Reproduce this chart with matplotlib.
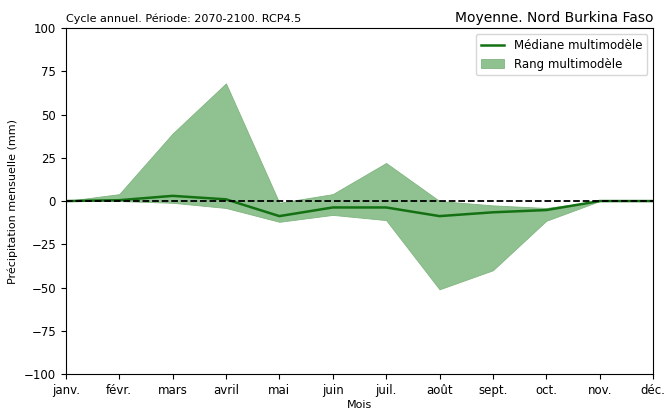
import numpy as np
import matplotlib
matplotlib.use("Agg")
import matplotlib.pyplot as plt

## Data ##
months = ["janv.", "févr.", "mars", "avril", "mai", "juin",
          "juil.", "août", "sept.", "oct.", "nov.", "déc."]
median = [0, 0.5, 3, 1, -8.7, -3.7, -3.7, -8.7, -6.5, -5.2, 0, 0]
upper = [0, 4, 39, 68, -1, 4, 22, 0, -2.5, -4, 0, 0]
lower = [0, 0, -1, -4, -12, -8, -11, -51, -40, -11.4, 0, 0]
## Data ##

x = np.arange(len(months))

fig = plt.figure(figsize=(6.65, 4.12), dpi=100)
ax = fig.add_axes([0.099, 0.092, 0.883, 0.840])

ax.fill_between(x, lower, upper, facecolor="#90c190", edgecolor="#80b580",
                linewidth=0.6, label="Rang multimodèle")
ax.plot(x, median, color="#137113", linewidth=1.8, label="Médiane multimodèle")
ax.axhline(0, color="black", linestyle="--", linewidth=1.3)

ax.set_xlim(0, len(months) - 1)
ax.set_ylim(-100, 100)
ax.set_yticks(np.arange(-100, 101, 25))
ax.set_xticks(x)
ax.set_xticklabels(months)
ax.tick_params(labelsize=8.5)

ax.set_xlabel("Mois", fontsize=8, labelpad=2)
ax.set_ylabel("Précipitation mensuelle (mm)", fontsize=8)
ax.set_title("Cycle annuel. Période: 2070-2100. RCP4.5", loc="left", fontsize=8, pad=4)
ax.set_title("Moyenne. Nord Burkina Faso", loc="right", fontsize=10, pad=4)

handles, labels = ax.get_legend_handles_labels()
ax.legend(handles[::-1], labels[::-1], loc="upper right", fontsize=8.5)

fig.savefig("out.png", dpi=100)
